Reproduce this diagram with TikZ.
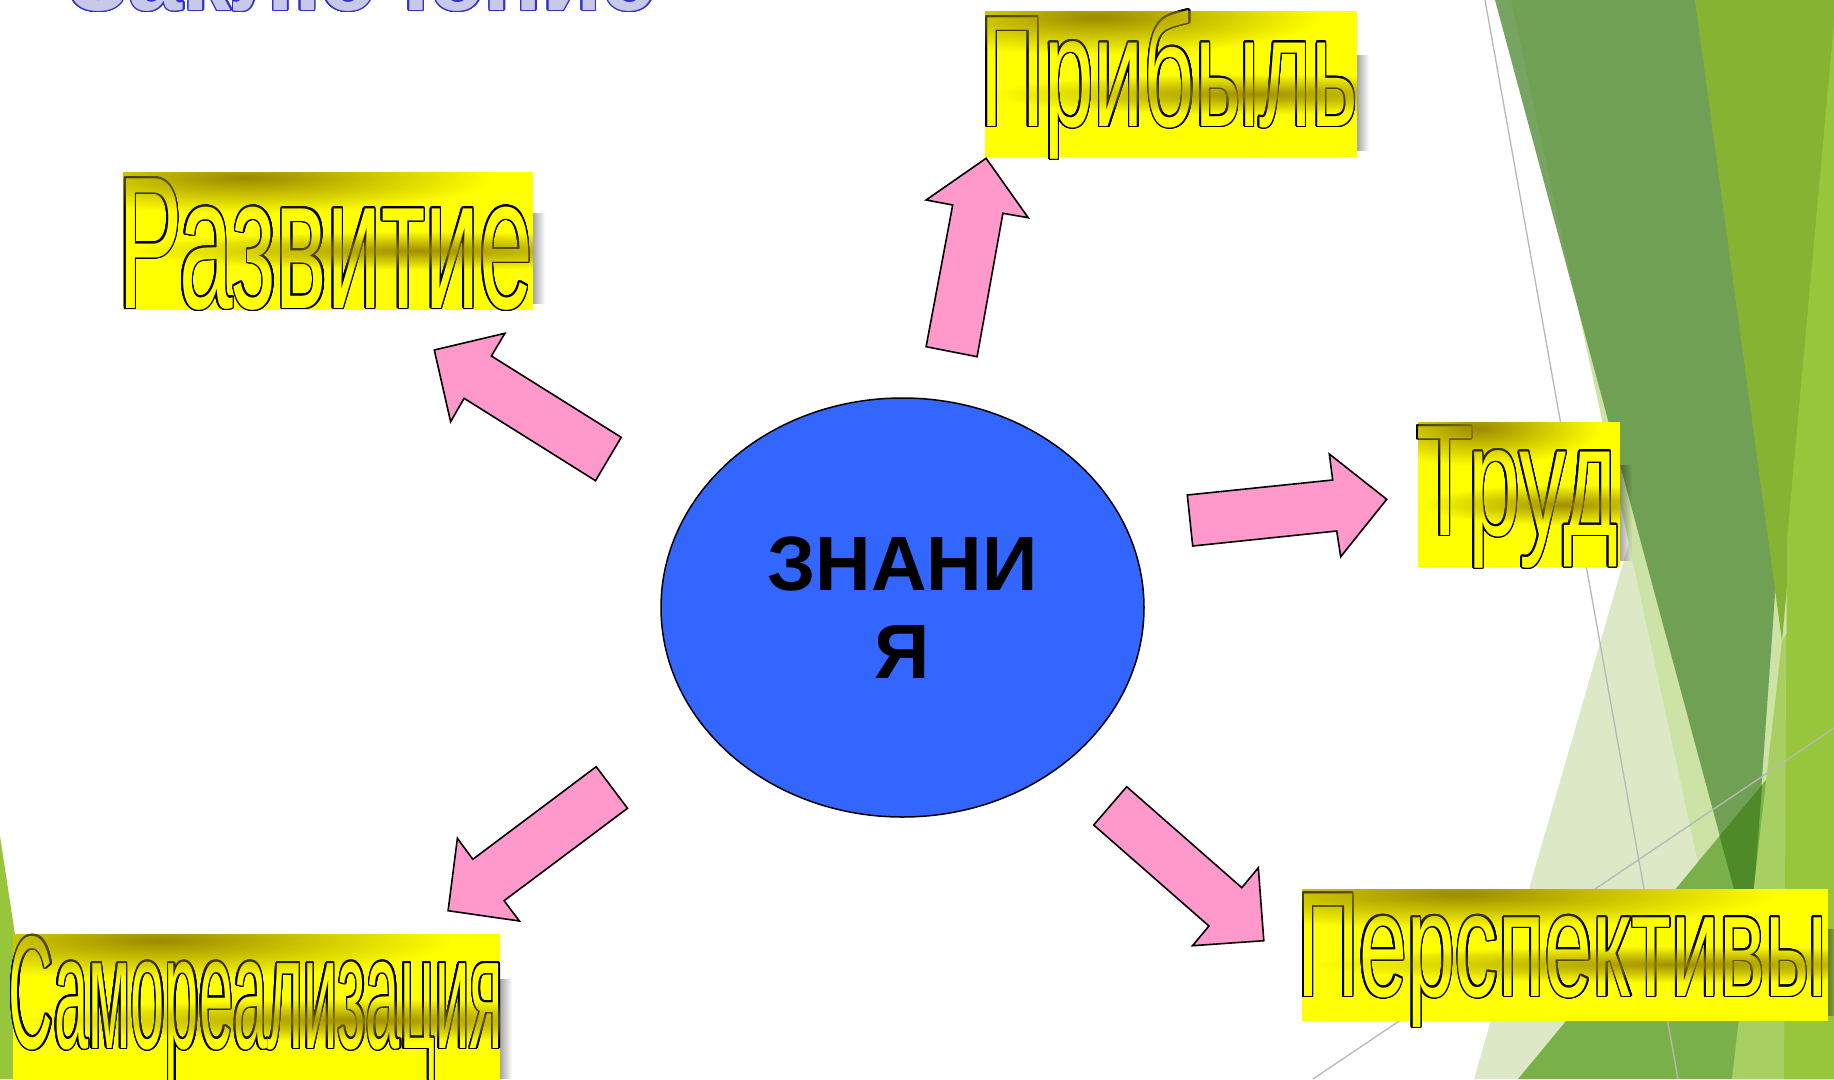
\documentclass[tikz,border=0pt]{standalone}
\usepackage{fontspec}
\setmainfont{Liberation Sans}
\usepackage{graphicx}
\usepackage{contour}
\contourlength{1.5pt}
\contournumber{24}
\usetikzlibrary{shapes.geometric,fadings}
\definecolor{pinkarr}{HTML}{FF99CC}
\definecolor{zblue}{HTML}{3366FF}
\definecolor{wyellow}{HTML}{FFFF00}
\definecolor{wolive}{HTML}{968400}
\definecolor{gpale}{HTML}{DDE9C6}
\definecolor{gpalemid}{HTML}{CDE3A5}
\definecolor{gdark}{HTML}{609546}
\definecolor{glime}{HTML}{86B432}
\definecolor{gbright}{HTML}{97C63C}
\definecolor{glight}{HTML}{A8CF62}
\definecolor{gmed}{HTML}{79B04A}
\definecolor{gdeep}{HTML}{4F8A28}
\definecolor{titlefill}{HTML}{C8C8E8}
\definecolor{titleline}{HTML}{3333CC}
\protected\def\waword#1#2#3{\resizebox{#1}{\height}{\fontsize{#2}{#2}\selectfont #3}}
\tikzfading[name=blobfade, inner color=transparent!0, outer color=transparent!100]
\tikzfading[name=fadeoutright, left color=transparent!0, right color=transparent!100]
\tikzset{
  arrowshape/.style={fill=pinkarr, draw=black, line width=1.6pt, line join=miter},
  wordart/.style={anchor=base west, inner sep=0pt, outer sep=0pt, text=wyellow},
  gline/.style={draw=black!28, line width=1.3pt},
}
\newcommand\wabg[4]{%
  \fill[black, fill opacity=0.35, path fading=fadeoutright] (#3,{#2+0.3*(#4-#2)}) rectangle ({#3+12},{#4-0.04*(#4-#2)});
  \fill[wyellow] (#1,#2) rectangle (#3,#4);
}
\newcommand\wafg[4]{%
  \begin{scope}
    \clip (#1,#2) rectangle (#3,#4);
    \fill[wolive, fill opacity=0.95, path fading=blobfade] ({#1-0.3*(#3-#1)},{#2-0.22*(#4-#2)}) rectangle ({#1+0.9*(#3-#1)},{#2+0.30*(#4-#2)});
    \fill[wolive, fill opacity=0.9, path fading=blobfade] ({#1+0.02*(#3-#1)},{#2+0.43*(#4-#2)}) rectangle ({#1+1.42*(#3-#1)},{#2+0.71*(#4-#2)});
  \end{scope}
}
\begin{document}
\begin{tikzpicture}[x=1pt,y=-1pt]
\useasboundingbox (0,0) rectangle (1834,1079);
\clip (0,0) rectangle (1834,1079);
\fill[white] (0,0) rectangle (1834,1079);

% green facets
\fill[gpale] (1474,1079) -- (1650,470) -- (1834,470) -- (1834,1079) -- cycle;
\fill[gpalemid] (1511,0) -- (1834,0) -- (1834,1079) -- (1745,1079) -- cycle;
\fill[gdark, fill opacity=0.85] (1495,0) -- (1817,0) -- (1750,948) -- cycle;
\fill[glime] (1695,0) -- (1840,0) -- (1782,641) -- cycle;
\fill[gmed] (1518,1079) -- (1834,698) -- (1834,1079) -- cycle;
\fill[gdeep] (1719.5,836) -- (1762,785) -- (1750,948) -- cycle;
\fill[glight] (1782,641) -- (1834,560) -- (1834,1079) -- (1732,1079) -- cycle;
\fill[gbright] (1836,0) -- (1787,540) -- (1784,1079) -- (1834,1079) -- cycle;
\fill[gbright] (0,836) -- (37,1079) -- (0,1079) -- cycle;
\draw[gline] (1485,0) -- (1678,1079);
\draw[gline] (1313,1079) -- (1834,728);

% title (cut at top)
\node[anchor=base west, inner sep=0pt, text=titlefill, font=\bfseries\fontsize{97}{97}\selectfont] (title) at (68,10) {\contour{titleline}{Заключение}};

% word-art labels
\wabg{123}{172}{533}{310}
\node[wordart] (razv) at (118,308) {\contour{black}{\waword{415pt}{188.5}{Развитие}}};
\wafg{123}{172}{533}{310}

\wabg{985}{11}{1357}{157}
\node[wordart] (prib) at (980,126) {\contour{black}{\waword{378pt}{158}{Прибыль}}};
\wafg{985}{11}{1357}{157}

\wabg{1418}{422}{1620}{567}
\node[wordart] (trud) at (1416,535) {\contour{black}{\waword{202pt}{158}{Труд}}};
\wafg{1418}{422}{1620}{567}

\wabg{1302}{889}{1828}{1021}
\node[wordart] (persp) at (1297,996) {\contour{black}{\waword{530pt}{149}{Перспективы}}};
\wafg{1302}{889}{1828}{1021}

\wabg{13}{934}{500}{1085}
\node[wordart] (samo) at (9,1048) {\contour{black}{\waword{494pt}{160.6}{Самореализация}}};
\wafg{13}{934}{500}{1085}

% block arrows
\draw[arrowshape] (926.1,346.7) -- (952.7,205) -- (926.1,200) -- (986.1,158.3) -- (1028.2,217.7) -- (1002.9,213.3) -- (977.1,356.7) -- cycle;
\draw[arrowshape] (621.2,437.3) -- (491.4,356) -- (504.9,333.3) -- (434.3,350) -- (450.6,421.7) -- (464.1,398.3) -- (595.5,480.7) -- cycle;
\draw[arrowshape] (596.2,766.7) -- (472.8,859.3) -- (457.4,838.3) -- (448.1,910.7) -- (519.4,921) -- (504.1,900.7) -- (627.5,808.3) -- cycle;
\draw[arrowshape] (1126.7,786.7) -- (1241.8,887.7) -- (1258.3,867.7) -- (1263.8,940.7) -- (1192.5,945.7) -- (1208.9,926) -- (1093.7,825) -- cycle;
\draw[arrowshape] (1187.3,495) -- (1332.7,480) -- (1329.3,454) -- (1386.7,499.3) -- (1340.7,556.7) -- (1336.7,531) -- (1192.7,546) -- cycle;

% central ellipse
\node[ellipse, draw=black, line width=1.5pt, fill=zblue, minimum width=483pt, minimum height=419pt, inner sep=0pt, align=center, font=\bfseries\fontsize{77}{88}\selectfont] (zn) at (902.5,607.5) {ЗНАНИ\\Я};
\end{tikzpicture}
\end{document}
